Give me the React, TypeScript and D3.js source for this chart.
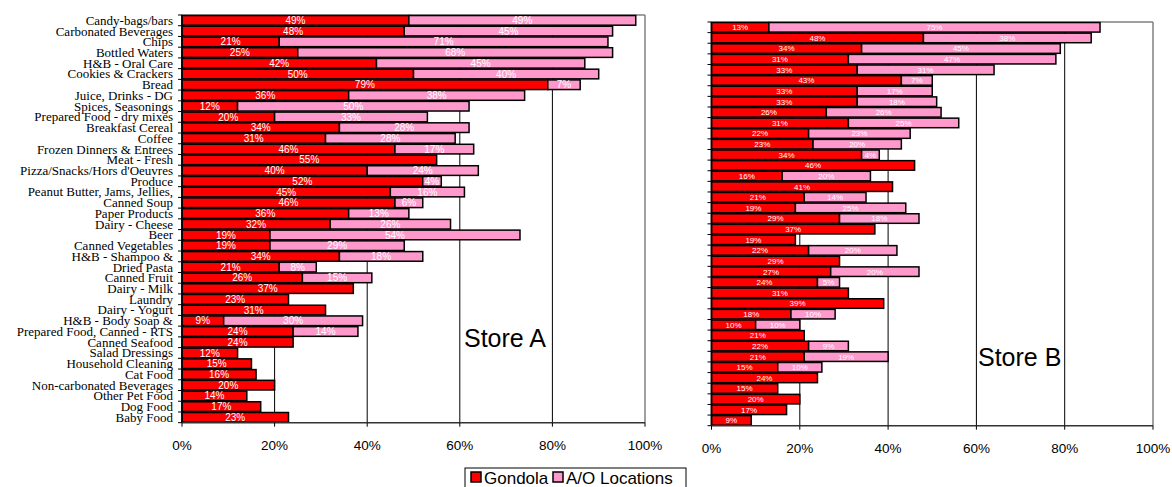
import React from "react";
import * as d3 from "d3";

const categories = [
  "Candy-bags/bars", "Carbonated Beverages", "Chips", "Bottled Waters", "H&B - Oral Care",
  "Cookies & Crackers", "Bread", "Juice, Drinks - DG", "Spices, Seasonings ", "Prepared Food - dry mixes",
  "Breakfast Cereal", "Coffee", "Frozen Dinners & Entrees", "Meat - Fresh", "Pizza/Snacks/Hors d'Oeuvres",
  "Produce", "Peanut Butter, Jams, Jellies,", "Canned Soup", "Paper Products", "Dairy - Cheese",
  "Beer", "Canned Vegetables", "H&B - Shampoo &", "Dried Pasta", "Canned Fruit ",
  "Dairy - Milk", "Laundry ", "Dairy - Yogurt", "H&B - Body Soap &", "Prepared Food, Canned - RTS",
  "Canned Seafood", "Salad Dressings", "Household Cleaning", "Cat Food", "Non-carbonated Beverages",
  "Other Pet Food", "Dog Food", "Baby Food",
];

const storeAGondola = [49, 48, 21, 25, 42, 50, 79, 36, 12, 20, 34, 31, 46, 55, 40, 52, 45, 46, 36, 32, 19, 19, 34, 21, 26, 37, 23, 31, 9, 24, 24, 12, 15, 16, 20, 14, 17, 23];
const storeAAO = [49, 45, 71, 68, 45, 40, 7, 38, 50, 33, 28, 28, 17, 0, 24, 4, 16, 6, 13, 26, 54, 29, 18, 8, 15, 0, 0, 0, 30, 14, 0, 0, 0, 0, 0, 0, 0, 0];
const storeBGondola = [13, 48, 34, 31, 33, 43, 33, 33, 26, 31, 22, 23, 34, 46, 16, 41, 21, 19, 29, 37, 19, 22, 29, 27, 24, 31, 39, 18, 10, 21, 22, 21, 15, 24, 15, 20, 17, 9];
const storeBAO = [75, 38, 45, 47, 31, 7, 17, 18, 26, 25, 23, 20, 4, 0, 20, 0, 14, 25, 18, 0, 0, 20, 0, 20, 5, 0, 0, 10, 10, 0, 9, 19, 10, 0, 0, 0, 0, 0];

const xTicks = [0, 20, 40, 60, 80, 100];
const seriesNames = ["Gondola", "A/O Locations"];
const RED = "#FF0000";
const PINK = "#FF99CC";

type PanelProps = {
  left: number; right: number; top: number; bottom: number;
  gondola: number[]; ao: number[]; showLabels: boolean; labelSize: number;
  title: string; titleX: number; titleY: number;
};

function Panel({ left, right, top, bottom, gondola, ao, showLabels, labelSize, title, titleX, titleY }: PanelProps) {
  const x = d3.scaleLinear().domain([0, 100]).range([left, right]);
  const y = d3.scaleBand<string>().domain(categories.map((c, i) => i + "")).range([top, bottom]).paddingInner(0.1).paddingOuter(0.05);
  const step = (bottom - top) / categories.length;
  const bw = y.bandwidth();
  return (
    <g>
      {xTicks.filter(t => t > 0 && t < 100).map(t => (
        <line key={"g" + t} x1={x(t)} x2={x(t)} y1={top} y2={bottom} stroke="#000" strokeWidth={1} />
      ))}
      <line x1={left} x2={right} y1={top} y2={top} stroke="#808080" strokeWidth={1.5} />
      <line x1={right} x2={right} y1={top} y2={bottom} stroke="#808080" strokeWidth={1.5} />
      <text x={titleX} y={titleY} fontFamily="Liberation Sans, Arial, sans-serif" fontSize={25} fill="#000">{title}</text>
      {categories.map((c, i) => {
        const yy = y(i + "") as number;
        const g = gondola[i];
        const a = ao[i];
        return (
          <g key={"b" + i}>
            {g > 0 && (
              <rect x={x(0)} y={yy} width={x(g) - x(0)} height={bw} fill={RED} stroke="#000" strokeWidth={1.5} />
            )}
            {a > 0 && (
              <rect x={x(g)} y={yy} width={x(g + a) - x(g)} height={bw} fill={PINK} stroke="#000" strokeWidth={1.5} />
            )}
            {g > 0 && (
              <text x={(x(0) + x(g)) / 2} y={yy + bw / 2} dy="0.36em" textAnchor="middle" fill="#fff"
                fontFamily="Liberation Sans, Arial, sans-serif" fontSize={labelSize}>{g}%</text>
            )}
            {a > 0 && (
              <text x={(x(g) + x(g + a)) / 2} y={yy + bw / 2} dy="0.36em" textAnchor="middle" fill="#fff"
                fontFamily="Liberation Sans, Arial, sans-serif" fontSize={labelSize}>{a}%</text>
            )}
            {showLabels && (
              <text x={left - 9} y={yy + bw / 2} dy="0.34em" textAnchor="end" fill="#000"
                fontFamily="Liberation Serif, Times New Roman, serif" fontSize={13}>{c}</text>
            )}
          </g>
        );
      })}
      <line x1={left} x2={left} y1={top} y2={bottom} stroke="#000" strokeWidth={1.5} />
      {d3.range(categories.length + 1).map(i => (
        <line key={"yt" + i} x1={left - 4} x2={left} y1={top + i * step} y2={top + i * step} stroke="#000" strokeWidth={1} />
      ))}
      <line x1={left} x2={right} y1={bottom} y2={bottom} stroke="#333" strokeWidth={1.5} />
      {xTicks.map(t => (
        <g key={"xt" + t}>
          <line x1={x(t)} x2={x(t)} y1={bottom} y2={bottom + 4} stroke="#000" strokeWidth={1} />
          <text x={x(t)} y={bottom + 27} textAnchor="middle" fill="#000"
            fontFamily="Liberation Sans, Arial, sans-serif" fontSize={13.5}>{t}%</text>
        </g>
      ))}
    </g>
  );
}

export default function App() {
  return (
    <svg width={1172} height={487} style={{ position: "absolute", left: 0, top: 0, background: "#fff" }}>
      <rect x={0} y={0} width={1172} height={487} fill="#fff" />
      <Panel left={182} right={645} top={15} bottom={422.7} gondola={storeAGondola} ao={storeAAO}
        showLabels={true} labelSize={10} title="Store A" titleX={464} titleY={347} />
      <Panel left={711.5} right={1153} top={22} bottom={425.7} gondola={storeBGondola} ao={storeBAO}
        showLabels={false} labelSize={8} title="Store B" titleX={978} titleY={366} />
      <g>
        <rect x={465} y={468} width={221} height={30} fill="#fff" stroke="#000" strokeWidth={1} />
        <rect x={471} y={472} width={10} height={10} fill={RED} stroke="#000" strokeWidth={1.5} />
        <text x={484} y={483.5} fontFamily="Liberation Sans, Arial, sans-serif" fontSize={17} fill="#000">{seriesNames[0]}</text>
        <rect x={553} y={472} width={10} height={10} fill={PINK} stroke="#000" strokeWidth={1.5} />
        <text x={566} y={483.5} fontFamily="Liberation Sans, Arial, sans-serif" fontSize={17} fill="#000">{seriesNames[1]}</text>
      </g>
    </svg>
  );
}
